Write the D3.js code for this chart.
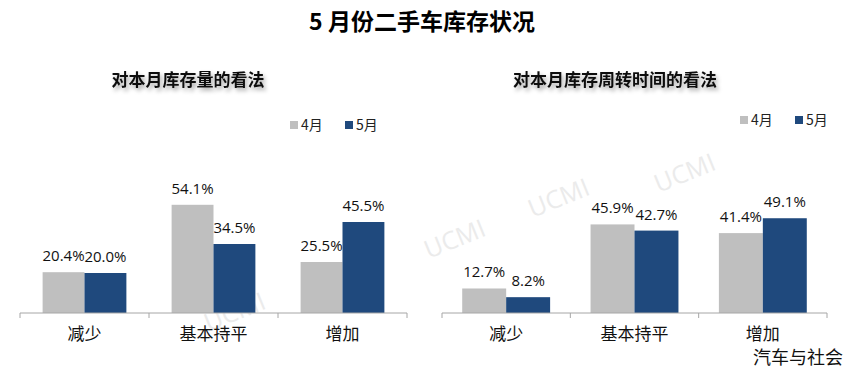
<!DOCTYPE html>
<html>
<head>
<meta charset="utf-8">
<script src="https://cdn.jsdelivr.net/npm/d3@7"></script>
<style>
body { margin: 0; background: #fff; }
svg { display: block; font-family: "Noto Sans CJK SC", "Noto Sans", sans-serif; }
</style>
</head>
<body>
<script>
// data
var categories = ["减少", "基本持平", "增加"];
var months = ["4月", "5月"];
var stockApr = [20.4, 54.1, 25.5];
var stockMay = [20.0, 34.5, 45.5];
var turnApr = [12.7, 45.9, 41.4];
var turnMay = [8.2, 42.7, 49.1];
var titles = ["对本月库存量的看法", "对本月库存周转时间的看法"];

var colors = {"4月": "#bfbfbf", "5月": "#1f497d"};

var width = 855, height = 373;

var svg = d3.select("body")
	.append("svg")
	.attr("width", width)
	.attr("height", height);

// soft shadow for the sub titles
var filter = svg.append("defs").append("filter")
	.attr("id", "shadow")
	.attr("x", "-10%").attr("y", "-30%")
	.attr("width", "130%").attr("height", "180%");
filter.append("feDropShadow")
	.attr("dx", 2).attr("dy", 3)
	.attr("stdDeviation", 2)
	.attr("flood-color", "#000")
	.attr("flood-opacity", 0.35);

// watermarks (behind everything)
var marks = [[238, 320], [458, 247], [562, 206], [688, 181]];
svg.selectAll(".wm")
	.data(marks)
	.enter()
	.append("text")
	.attr("class", "wm")
	.attr("transform", function(d){ return "translate(" + d[0] + "," + d[1] + ") rotate(-22)"; })
	.attr("text-anchor", "middle")
	.attr("font-family", "Open Sans, sans-serif")
	.attr("font-size", 25)
	.attr("fill", "#ebebeb")
	.text("UCMI");

// main title
svg.append("text")
	.attr("x", 422)
	.attr("y", 30)
	.attr("text-anchor", "middle")
	.attr("font-size", 23)
	.attr("font-weight", "bold")
	.attr("fill", "#000")
	.text("5 月份二手车库存状况");

// one grouped bar chart
function drawChart(opts){
	var g = svg.append("g");

	var x = d3.scaleBand()
		.domain(categories)
		.range([opts.x0, opts.x1]);

	var xm = d3.scaleBand()
		.domain(months)
		.range([0, x.bandwidth()])
		.paddingOuter(opts.pad);

	var y = d3.scaleLinear()
		.domain([0, 60])
		.range([opts.base, opts.top]);

	var rows = [];
	categories.forEach(function(c, i){
		rows.push({cat: c, m: "4月", v: opts.apr[i]});
		rows.push({cat: c, m: "5月", v: opts.may[i]});
	});

	g.selectAll(".bar")
		.data(rows)
		.enter()
		.append("rect")
		.attr("class", "bar")
		.attr("x", function(d){ return x(d.cat) + xm(d.m); })
		.attr("y", function(d){ return y(d.v); })
		.attr("width", xm.bandwidth())
		.attr("height", function(d){ return y(0) - y(d.v); })
		.attr("fill", function(d){ return colors[d.m]; });

	g.selectAll(".lbl")
		.data(rows)
		.enter()
		.append("text")
		.attr("class", "lbl")
		.attr("x", function(d){ return x(d.cat) + xm(d.m) + xm.bandwidth() / 2; })
		.attr("y", function(d){ return y(d.v) - 11; })
		.attr("text-anchor", "middle")
		.attr("font-family", "Open Sans, sans-serif")
		.attr("font-size", 15)
		.attr("fill", "#111")
		.text(function(d){ return d.v.toFixed(1) + "%"; });

	// category axis with ticks between the groups
	var axis = g.append("g")
		.attr("transform", "translate(0," + opts.base + ")");
	axis.append("line")
		.attr("x1", opts.x0).attr("x2", opts.x1)
		.attr("stroke", "#a6a6a6");
	var edges = categories.map(function(c){ return x(c); }).concat([opts.x1]);
	axis.selectAll(".tk")
		.data(edges)
		.enter()
		.append("line")
		.attr("x1", function(d){ return d; })
		.attr("x2", function(d){ return d; })
		.attr("y2", 5)
		.attr("stroke", "#a6a6a6");
	axis.selectAll(".cat")
		.data(categories)
		.enter()
		.append("text")
		.attr("x", function(d){ return x(d) + x.bandwidth() / 2; })
		.attr("y", 27)
		.attr("text-anchor", "middle")
		.attr("font-size", 17)
		.attr("fill", "#111")
		.text(function(d){ return d; });

	// sub title
	g.append("text")
		.attr("x", opts.tx)
		.attr("y", 86)
		.attr("text-anchor", "middle")
		.attr("font-size", 17)
		.attr("font-weight", "bold")
		.attr("fill", "#111")
		.attr("filter", "url(#shadow)")
		.text(opts.title);

	// legend
	var lg = g.selectAll(".lg")
		.data(months)
		.enter()
		.append("g")
		.attr("transform", function(d, i){ return "translate(" + (opts.lx + i * 55) + "," + opts.ly + ")"; });
	lg.append("rect")
		.attr("y", -9)
		.attr("width", 8).attr("height", 8)
		.attr("fill", function(d){ return colors[d]; });
	lg.append("text")
		.attr("x", 11)
		.attr("y", 0)
		.attr("font-size", 14)
		.attr("fill", "#222")
		.text(function(d){ return d; });
}

drawChart({x0: 20, x1: 407, base: 313, top: 193, pad: 0.54,
	apr: stockApr, may: stockMay, title: titles[0], tx: 188, lx: 290, ly: 130});
drawChart({x0: 442, x1: 827, base: 313, top: 197.2, pad: 0.46,
	apr: turnApr, may: turnMay, title: titles[1], tx: 615, lx: 740, ly: 125});

// source mark
svg.append("text")
	.attr("x", 843)
	.attr("y", 364)
	.attr("text-anchor", "end")
	.attr("font-size", 18)
	.attr("fill", "#111")
	.text("汽车与社会");
</script>
</body>
</html>
